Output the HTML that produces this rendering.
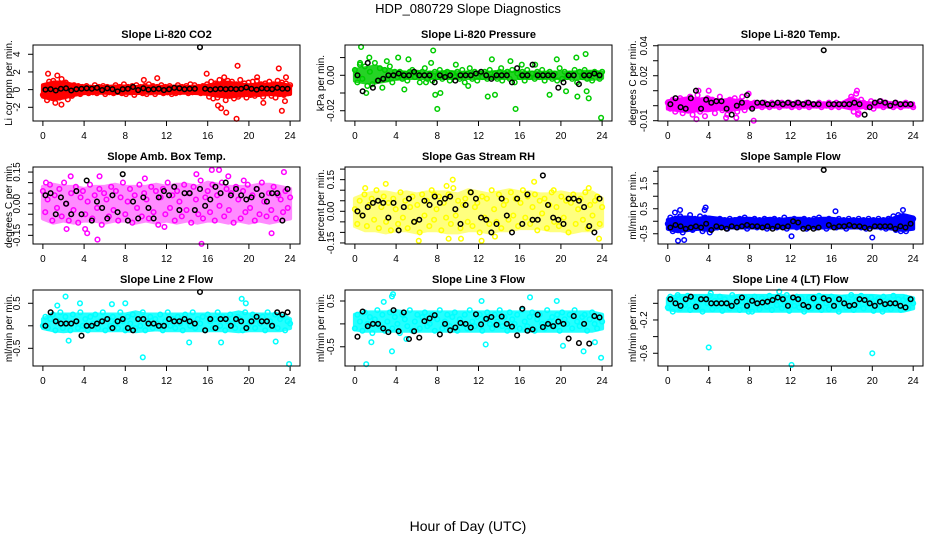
<!DOCTYPE html>
<html><head><meta charset="utf-8"><style>
html,body{margin:0;padding:0;background:#fff;}
svg{display:block;font-family:"Liberation Sans",Arial,sans-serif;}
</style></head><body>
<svg id="chart" width="936" height="540" viewBox="0 0 936 540" xmlns="http://www.w3.org/2000/svg">
<text x="468" y="13" text-anchor="middle" font-size="13">HDP_080729  Slope Diagnostics</text>
<text x="468" y="531" text-anchor="middle" font-size="14">Hour of Day (UTC)</text>
</svg>
<script>
// ---- data ----
const xTicks = [0,4,8,12,16,20,24];
const titles = ["Slope Li-820 CO2","Slope Li-820 Pressure","Slope Li-820 Temp.","Slope Amb. Box Temp.","Slope Gas Stream RH","Slope Sample Flow","Slope Line 2 Flow","Slope Line 3 Flow","Slope Line 4 (LT) Flow"];
const yLabels = ["Li cor ppm per min.","kPa per min.","degrees C per min.","degrees C per min.","percent per min.","ml/min per min.","ml/min per min.","ml/min per min.","ml/min per min."];
const colors = ["#ff0000","#00cc00","#ff00ff","#ff00ff","#ffff00","#0000ff","#00ffff","#00ffff","#00ffff"];
const yDomains = [[-3.55,5.05],[-0.0258,0.0171],[-0.0102,0.0405],[-0.191,0.174],[-0.155,0.21],[-0.91,2.17],[-0.893,0.795],[-0.92,0.74],[-0.753,0.16]];
const yTicks = [[-2,0,2,4],[-0.02,-0.01,0,0.01],[-0.01,0,0.01,0.02,0.03,0.04],[-0.15,-0.1,-0.05,0,0.05,0.1,0.15],[-0.15,-0.1,-0.05,0,0.05,0.1,0.15,0.2],[-0.5,0,0.5,1,1.5,2],[-0.5,0,0.5],[-0.5,0,0.5],[-0.6,-0.4,-0.2,0]];
const yTickLabels = [["-2","0","2","4"],["-0.02","","0.00",""],["-0.01","","","0.02","","0.04"],["-0.15","","","0.00","","","0.15"],["-0.15","","","0.00","","","0.15",""],["-0.5","","0.5","","1.5",""],["-0.5","","0.5"],["-0.5","","0.5"],["-0.6","","-0.2",""]];

// dense-data envelope per hour (0..24): low and high edges of the colored cloud
const lo1 = [-0.8,-1.1,-0.9,-0.6,-0.4,-0.35,-0.35,-0.4,-0.35,-0.4,-0.35,-0.35,-0.4,-0.35,-0.35,-0.4,-0.5,-0.7,-0.8,-0.7,-0.6,-0.6,-0.5,-0.6,-0.5];
const hi1 = [0.5,0.8,0.8,0.5,0.35,0.3,0.3,0.35,0.35,0.3,0.35,0.35,0.3,0.35,0.3,0.35,0.45,0.7,0.8,0.6,0.5,0.6,0.6,0.7,0.4];
const lo2 = [-0.003,-0.004,-0.004,-0.003,-0.002,-0.0015,-0.0015,-0.0015,-0.0015,-0.0015,-0.0015,-0.0015,-0.0015,-0.0015,-0.0015,-0.0015,-0.0015,-0.0015,-0.0015,-0.0015,-0.0015,-0.0015,-0.0015,-0.002,-0.0015];
const hi2 = [0.003,0.004,0.005,0.003,0.002,0.0015,0.002,0.0015,0.0015,0.002,0.0015,0.0015,0.0015,0.0015,0.002,0.0015,0.0015,0.0015,0.0015,0.0015,0.0015,0.0015,0.002,0.002,0.0015];
const lo3 = [-0.002,-0.003,-0.004,-0.003,-0.003,-0.002,-0.003,-0.002,-0.001,-0.0005,-0.0005,-0.0005,-0.0005,-0.0005,-0.0005,-0.0005,-0.0005,-0.0005,-0.002,-0.001,-0.0005,-0.0005,-0.0005,-0.0005,-0.0005];
const hi3 = [0.003,0.004,0.005,0.004,0.005,0.003,0.004,0.003,0.002,0.0015,0.0015,0.0015,0.0015,0.0015,0.0015,0.0015,0.0015,0.0015,0.005,0.002,0.0015,0.002,0.0015,0.0015,0.0015];
const lo4 = [-0.07,-0.09,-0.08,-0.09,-0.08,-0.08,-0.09,-0.08,-0.08,-0.09,-0.08,-0.09,-0.08,-0.09,-0.08,-0.09,-0.08,-0.08,-0.09,-0.08,-0.09,-0.08,-0.09,-0.08,-0.07];
const hi4 = [0.08,0.09,0.08,0.08,0.07,0.08,0.08,0.09,0.08,0.08,0.08,0.09,0.08,0.09,0.09,0.08,0.1,0.09,0.08,0.08,0.08,0.09,0.09,0.08,0.07];
const lo5 = [-0.07,-0.09,-0.09,-0.1,-0.09,-0.09,-0.1,-0.09,-0.09,-0.1,-0.1,-0.09,-0.09,-0.1,-0.09,-0.09,-0.08,-0.08,-0.08,-0.09,-0.09,-0.1,-0.09,-0.09,-0.07];
const hi5 = [0.06,0.08,0.09,0.09,0.08,0.09,0.08,0.09,0.09,0.09,0.08,0.1,0.09,0.08,0.09,0.1,0.09,0.09,0.08,0.08,0.09,0.08,0.08,0.09,0.06];
const lo6 = [-0.3,-0.4,-0.35,-0.3,-0.35,-0.25,-0.25,-0.25,-0.25,-0.25,-0.25,-0.25,-0.25,-0.25,-0.25,-0.25,-0.25,-0.25,-0.25,-0.25,-0.25,-0.25,-0.3,-0.35,-0.3];
const hi6 = [0.05,0.15,0.15,0.1,0.15,0.1,0.05,0.1,0.1,0.05,0.1,0.05,0.1,0.1,0.05,0.1,0.1,0.05,0.05,0.05,0.05,0.05,0.1,0.25,0.15];
const lo7 = [-0.05,-0.1,-0.12,-0.1,-0.1,-0.1,-0.1,-0.1,-0.1,-0.12,-0.1,-0.08,-0.1,-0.1,-0.1,-0.1,-0.1,-0.1,-0.1,-0.12,-0.1,-0.1,-0.1,-0.1,-0.05];
const hi7 = [0.15,0.25,0.25,0.25,0.25,0.25,0.25,0.25,0.25,0.3,0.25,0.25,0.25,0.25,0.25,0.25,0.25,0.25,0.25,0.3,0.25,0.25,0.25,0.25,0.15];
const lo8 = [-0.12,-0.15,-0.15,-0.15,-0.15,-0.15,-0.15,-0.15,-0.15,-0.15,-0.15,-0.15,-0.15,-0.15,-0.15,-0.15,-0.15,-0.15,-0.15,-0.15,-0.15,-0.15,-0.15,-0.15,-0.1];
const hi8 = [0.2,0.25,0.25,0.25,0.28,0.25,0.25,0.25,0.25,0.25,0.25,0.25,0.25,0.25,0.25,0.25,0.25,0.25,0.25,0.25,0.25,0.25,0.25,0.25,0.2];
const lo9 = [-0.07,-0.09,-0.09,-0.09,-0.09,-0.09,-0.09,-0.09,-0.09,-0.09,-0.09,-0.09,-0.09,-0.09,-0.09,-0.09,-0.09,-0.09,-0.09,-0.09,-0.09,-0.09,-0.09,-0.09,-0.06];
const hi9 = [0.06,0.09,0.09,0.09,0.09,0.09,0.08,0.09,0.09,0.09,0.09,0.09,0.08,0.09,0.09,0.09,0.09,0.08,0.09,0.09,0.09,0.08,0.09,0.09,0.06];

const c1 = [-0.6,0.4,-1.2,0.9,-0.3,1.0,-1.5,0.6,-0.9,1.2,-0.4,0.8,-1.1,0.3,-0.7,0.5,-0.3,0.4,-0.5,0.3,-0.2,0.4,-0.4,0.2,-0.3,0.5,-0.4,0.3,-0.2,0.4,-0.5,0.3,-0.3,0.2,-0.4,0.5,-0.2,0.3,-0.4,0.6,-0.5,0.3,-0.3,0.4,-0.6,0.5,-0.2,0.3,-0.4,0.4,-0.5,0.6,-0.3,0.4,-0.5,0.3,-0.2,0.5,-0.4,0.3,-0.3,0.4,-0.5,0.2,-0.4,0.5,-0.3,0.3,-0.2,0.4,-0.4,0.6,-0.3,0.5,-0.2,0.3,-0.4,0.4,-0.3,0.6,-0.8,0.9,-1.0,0.7,-0.9,1.1,-0.6,0.8,-1.2,1.0,-0.7,0.9,-1.0,0.6,-0.8,1.1,-0.5,0.7,-0.9,0.8,-0.6,0.9,-0.7,1.0,-0.5,0.6,-0.8,0.7,-0.4,0.9,-0.7,0.6,-0.9,1.0,-0.5,0.8,-0.6,0.7,-0.4,0.5];
const c2 = [0.003,-0.004,0.006,-0.002,0.005,-0.006,0.002,-0.005,0.007,-0.003,0.004,-0.007,0.003,-0.002,0.005,-0.004,0.002,-0.001,0.002,-0.002,0.001,-0.003,0.002,0.003,-0.001,0.001,-0.004,0.002,0.004,-0.002,0.001,-0.003,0.002,-0.001,0.003,-0.002,0.001,0.002,-0.003,0.001,-0.001,0.002,-0.002,0.003,-0.004,0.001,0.004,-0.002,0.002,-0.003,0.001,-0.001,0.002,-0.002,0.003,-0.001,0.001,-0.002,0.002,-0.003,0.001,0.002,-0.002,0.003,-0.004,0.001,-0.001,0.002,-0.003,0.003,-0.001,0.001,-0.002,0.002,-0.001,0.003,-0.003,0.001,0.002,-0.002,0.001,-0.003,0.004,-0.002,0.002,-0.001,0.001,-0.002,0.003,-0.004,0.002,-0.001,0.003,-0.002,0.001,-0.003,0.002,0.001,-0.002,0.002];
const c3 = [0.002,-0.002,0.004,-0.004,0.001,0.005,-0.005,0.003,-0.003,0.006,-0.006,0.002,0.007,-0.004,0.003,-0.007,0.005,-0.002,0.004,-0.005,0.002,0.006,-0.003,0.001,-0.006,0.004,-0.002,0.005,-0.004,0.003,0.006,-0.003,0.002,0.001,-0.001,0.002,0,0.001,-0.001,0.002,0.001,-0.001,0.002,0,0.001,-0.001,0.002,0.001,0,0.002,-0.001,0.001,0.002,-0.001,0.001,0,0.002,-0.001,0.001,0.001,0,0.002,-0.001,0.001,0,0.002,-0.001,0.001,0.002,-0.001,0.001,0.001,0,0.002,0.006,-0.004,0.008,-0.005,0.004,0.002,-0.001,0.001,0.003,-0.002,0.002,0.001,0.003,-0.001,0.002,0,0.001,-0.001,0.002,0.001,-0.001,0.001,0.002,0,0.001,-0.001];
const c4 = [0.06,-0.04,0.02,0.09,-0.08,0.04,-0.02,0.07,-0.06,0.1,0,-0.08,0.05,-0.03,0.08,-0.09,0.03,0.06,-0.05,0.01,0.09,-0.07,0.04,-0.02,0.07,-0.1,0.05,0.02,-0.06,0.08,-0.03,0.06,-0.08,0.03,0.1,-0.05,0.01,0.07,-0.09,0.04,-0.02,0.09,-0.06,0.05,0.02,-0.07,0.08,-0.04,0.06,-0.1,0.03,0.07,-0.05,0.1,-0.02,0.04,-0.08,0.06,0.01,-0.06,0.09,-0.03,0.05,-0.09,0.08,0.02,-0.05,0.11,-0.07,0.03,0.06,-0.04,0.09,-0.08,0.04,-0.01,0.1,-0.06,0.07,-0.03,0.05,-0.09,0.08,0.02,-0.07,0.06,-0.04,0.09,-0.02,0.04,-0.08,0.07,-0.05,0.1,0.01,-0.06,0.05,-0.03,0.08,-0.07,0.04,0.02,-0.04,0.06,-0.02,0.03];
const c5 = [0.01,-0.06,0.05,-0.02,0.08,-0.07,0.03,0.06,-0.04,0.1,-0.08,0.02,0.07,-0.05,0.04,-0.09,0.06,0.01,-0.06,0.09,-0.03,0.05,-0.08,0.02,0.07,-0.05,0.03,-0.1,0.08,-0.02,0.05,-0.07,0.1,-0.04,0.01,0.07,-0.09,0.04,-0.03,0.08,-0.06,0.11,-0.02,0.05,-0.08,0.03,0.06,-0.05,0.09,-0.07,0.02,0.04,-0.1,0.07,-0.03,0.06,-0.06,0.1,0.01,-0.05,0.08,-0.08,0.03,0.05,-0.04,0.09,-0.02,0.06,-0.07,0.04,0.1,-0.03,0.07,-0.06,0.02,0.08,-0.09,0.05,-0.01,0.06,-0.08,0.03,0.09,-0.05,0.02,-0.07,0.07,-0.03,0.05,-0.1,0.04,0.08,-0.06,0.01,0.06,-0.04,0.09,-0.08,0.03,-0.02,0.05,0.07,-0.06,0.02];
const c6 = [-0.1,0.15,-0.4,0.1,-0.3,0.2,-0.45,0.05,-0.2,0.25,-0.35,0.1,-0.25,0.2,-0.4,0.15,-0.1,0.1,-0.3,0.05,-0.25,0.1,-0.2,0.05,-0.3,0.1,-0.15,0.05,-0.25,0.1,-0.2,0.15,-0.3,0.05,-0.15,0.1,-0.25,0.05,-0.2,0.1,-0.3,0.05,-0.1,0.1,-0.25,0.05,-0.2,0.15,-0.3,0.05,-0.15,0.1,-0.25,0.05,-0.2,0.1,-0.3,0.05,-0.15,0.1,-0.25,0.15,-0.2,0.05,-0.3,0.1,-0.15,0.05,-0.25,0.1,-0.2,0.05,-0.3,0.1,-0.15,0.05,-0.2,0.1,-0.25,0.05,-0.3,0.1,-0.15,0.05,-0.2,0.1,-0.25,0.05,-0.3,0.1,-0.2,0.2,-0.35,0.25,-0.4,0.2,-0.3,0.15,-0.25,0.1];
const c7 = [0.0,0.2,-0.05,0.15,0.25,-0.1,0.1,0.3,-0.05,0.2,0.05,-0.1,0.25,0.1,-0.05,0.3,0.0,0.15,-0.1,0.2,0.05,0.25,-0.05,0.1,0.3,-0.1,0.15,0.0,0.2,0.05,-0.05,0.3,0.1,-0.1,0.2,0.05,0.25,-0.05,0.15,0.0,0.3,-0.1,0.1,0.2,-0.05,0.15,0.05,0.25,-0.1,0.1,0.3,0.0,0.15,-0.05,0.2,0.05,-0.1,0.25,0.1,0.0,0.3,-0.05,0.15,0.05,0.2,-0.1,0.25,0.1,-0.05,0.15,0.3,0.0,0.2,-0.1,0.1,0.25,0.05,-0.05,0.2,0.15,-0.1,0.3,0.0,0.1,0.25,-0.05,0.15,0.05,0.2,-0.1,0.3,0.1,0.0,0.25,-0.05,0.15,0.2,-0.1,0.1,0.05];
const c8 = [-0.1,0.2,0.05,-0.15,0.25,0.0,0.15,-0.2,0.1,0.3,-0.05,0.2,-0.15,0.05,0.25,-0.1,0.15,0.0,-0.2,0.2,0.1,-0.05,0.3,-0.15,0.05,0.2,-0.1,0.15,0.25,-0.05,0.0,0.2,-0.15,0.1,0.3,-0.1,0.05,0.2,-0.05,0.15,0.25,-0.15,0.1,0.0,0.2,-0.1,0.3,0.05,-0.05,0.15,0.2,-0.15,0.1,0.25,0.0,-0.1,0.2,0.05,0.3,-0.05,0.15,-0.15,0.25,0.1,0.0,0.2,-0.1,0.3,0.05,-0.05,0.15,0.25,-0.15,0.1,0.2,0.0,-0.1,0.3,0.05,0.15,-0.05,0.2,-0.15,0.25,0.1,0.0,0.2,-0.1,0.3,0.05,-0.05,0.15,0.2,-0.15,0.1,0.25,0.0,-0.1,0.15,0.05];
const c9 = [-0.05,0.08,-0.1,0.03,0.1,-0.06,0.05,-0.02,0.09,-0.08,0.02,0.07,-0.05,0.04,-0.1,0.06,0.0,0.09,-0.07,0.03,-0.03,0.08,-0.09,0.05,0.01,-0.06,0.1,-0.04,0.06,-0.08,0.02,0.07,-0.05,0.04,-0.1,0.08,0.0,-0.07,0.06,0.03,-0.04,0.09,-0.08,0.05,-0.02,0.07,-0.06,0.02,0.1,-0.09,0.04,-0.03,0.08,-0.05,0.06,-0.1,0.01,0.07,-0.06,0.04,-0.02,0.09,-0.08,0.05,0.0,-0.07,0.08,-0.04,0.06,-0.1,0.03,0.07,-0.05,0.02,0.1,-0.08,0.04,-0.03,0.09,-0.06,0.05,-0.01,0.07,-0.09,0.03,0.06,-0.05,0.08,-0.04,0.02,-0.07,0.09,-0.02,0.05,-0.08,0.04,0.07,-0.06,0.03,0.0];

const o1h = [0.5,1.4,1.8,9.8,11.1,15.9,17.0,17.3,17.8,18.8,18.9,21.4,22.9,23.2,23.5,23.6,20.8,17.6];
const o1v = [1.8,1.6,-1.7,1.1,1.3,1.8,-1.8,-2.1,-2.6,-3.3,2.7,-1.5,2.4,-2.4,-1.3,1.4,1.4,1.4];
const o2h = [0.6,0.5,1.4,1.1,3.1,4.2,5.2,4.8,7.4,7.6,7.8,8.0,8.3,9.8,11.0,12.9,13.3,13.6,15.1,15.6,16.2,17.5,18.9,19.6,20.5,21.5,21.6,22.4,22.5,22.7,23.9,14.2,6.9];
const o2v = [0.016,0.007,0.01,-0.01,0.008,0.01,0.009,-0.008,0.007,0.014,-0.011,-0.019,-0.01,0.006,-0.006,-0.012,0.009,-0.011,0.008,-0.019,0.006,0.006,-0.011,0.009,-0.009,0.01,-0.012,0.012,-0.009,-0.013,-0.024,0.004,-0.004];
const o3h = [2.8,5.7,6.7,8.4,4.0,18.5,18.6,3.0,7.9];
const o3v = [-0.009,-0.008,-0.008,-0.01,0.01,0.01,-0.006,0.01,0.008];
const o4h = [2.3,4.1,4.3,5.3,15.4,16.4,17.1,22.2,23.4,2.7,5.5,11.8,18.0,19.5,0.3,9.9,14.9];
const o4v = [-0.12,-0.12,-0.14,-0.17,-0.19,0.16,0.16,-0.14,0.15,0.13,0.13,-0.11,0.13,0.11,0.1,0.12,0.14];
const o5h = [6.2,9.1,10.3,12.3,13.6,23.7,9.5,17.4,3.0,8.9,22.7,7.7,1.0,19.3];
const o5v = [-0.14,-0.13,-0.13,-0.14,-0.12,-0.13,0.15,0.14,0.13,0.12,0.11,0.08,0.11,0.1];
const o6h = [0.7,1.2,1.0,1.6,3.6,3.7,3.5,4.1,12.1,16.4,20.0,23.0,23.3,22.5];
const o6v = [0.35,0.45,-0.78,-0.75,0.45,0.55,-0.3,-0.45,-0.6,0.4,-0.65,0.45,-0.4,-0.3];
const o7h = [2.2,9.7,23.9,19.3,3.6,8.0,14.2,17.3,22.6,2.5,1.4,6.7,19.7];
const o7v = [0.65,-0.7,-0.85,0.6,0.5,0.5,-0.37,-0.37,-0.35,-0.33,0.45,0.48,0.5];
const o8h = [3.7,3.6,1.1,3.6,2.8,12.3,12.7,17.0,19.6,20.2,22.2,23.9,1.6,5.0,23.3];
const o8v = [0.65,0.6,-0.88,-0.6,0.48,0.5,-0.45,0.58,0.5,-0.48,-0.6,-0.74,-0.4,-0.33,-0.4];
const o9h = [4.0,12.1,20.0,4.2,10.9,7.9,21.0];
const o9v = [-0.53,-0.74,-0.6,0.12,0.14,-0.1,-0.1];

const b1 = [0,0.05,-0.1,0.1,0.15,-0.1,0.05,0.1,0.15,0.1,0.2,-0.05,0.15,0.05,-0.2,0.05,0.1,0.3,-0.05,0.15,0,0.05,0.1,-0.05,0.05,0.2,0.15,0.05,0.1,0.1,4.8,0.1,0,0.05,0.1,0.05,0.1,0.05,0.1,0.25,0.1,0,0.15,0.1,0.05,0.2,0.1,0.1];
const b2 = [0,-0.009,0.007,-0.007,-0.003,-0.002,0,0,0.001,0,0,0.002,0,0,0,-0.004,0,-0.001,0,-0.003,0,0,0,0.001,0.002,0,-0.002,0,0,0,-0.004,0.004,0,0,0.006,0,0,0,0,-0.007,-0.004,0,0,-0.005,0,0,0.001,0];
const b3 = [0.001,0.005,-0.001,-0.002,0.005,0.010,-0.002,0.004,0.002,0.003,0.003,-0.002,-0.006,0,0.002,0.007,-0.002,0.002,0.002,0.001,0.001,0.002,0.001,0.002,0.001,0.002,0.001,0.002,0.001,0.001,0.037,0.001,0.001,0.001,0.001,0.001,0.002,0.001,-0.006,-0.001,0.002,0.003,0.002,0,0.002,0.001,0.001,0.001];
const b4 = [0.04,0.05,-0.05,0.03,0,-0.05,0.06,-0.05,0.11,-0.08,0.01,-0.02,-0.07,0.04,-0.04,0.14,-0.08,0.01,-0.07,0.03,-0.02,-0.07,0.03,0.06,0.04,0.08,-0.03,0.05,0.05,-0.03,0.07,-0.01,0.02,0.08,0.05,0.10,0.04,0.07,0.04,0.02,0.03,0.07,0.04,0.01,0.05,0.05,-0.08,0.07];
const b5 = [0,-0.02,0.02,0.04,0.05,0.04,-0.03,0.04,-0.09,0.02,0.06,-0.05,-0.04,0.05,0.03,0.07,0.04,0.06,0.07,0.01,-0.06,0.03,0.09,0.06,-0.03,-0.04,-0.10,-0.06,0.06,-0.02,-0.10,0.06,-0.06,0.08,-0.04,-0.04,0.17,0.03,-0.03,-0.04,-0.06,0.06,0.06,0.05,0.02,-0.07,-0.10,0.06];
const b6 = [-0.25,-0.15,-0.2,-0.3,-0.25,-0.2,-0.25,-0.1,-0.35,-0.2,-0.25,-0.3,-0.2,-0.25,-0.2,-0.15,-0.2,-0.2,-0.25,-0.2,-0.3,-0.2,-0.25,-0.2,0.0,-0.05,-0.3,-0.25,-0.3,-0.25,2.05,-0.15,-0.25,-0.2,-0.2,-0.15,-0.2,-0.2,-0.25,-0.3,-0.2,-0.2,-0.2,-0.2,-0.3,-0.2,-0.25,-0.1];
const b7 = [0.0,0.3,0.1,0.05,0.05,0.05,0.1,-0.22,0.0,0.0,0.05,0.1,0.15,-0.05,0.1,0.15,-0.05,-0.1,0.15,0.15,0.05,0.05,0.0,0.0,0.15,0.1,0.1,0.15,0.1,0.05,0.75,-0.1,0.15,-0.05,0.15,0.15,0.0,0.15,0.1,-0.05,0.1,0.2,0.1,0.1,0.0,0.3,0.25,0.3];
const b8 = [-0.28,0.27,-0.05,0.0,0.0,-0.1,-0.18,0.3,-0.16,0.25,-0.33,-0.16,-0.3,0.06,0.12,0.19,-0.23,0.0,-0.14,-0.08,0.02,0.0,-0.08,0.21,-0.01,0.11,0.15,-0.02,0.16,0.0,-0.06,-0.25,0.33,-0.15,-0.12,0.2,-0.07,0.0,-0.05,0.05,0.0,-0.32,0.17,-0.42,0.0,-0.43,0.17,0.14];
const b9 = [0.05,0.0,-0.03,0.05,0.08,-0.04,0.05,0.05,0.0,0.0,0.0,0.0,-0.03,0.02,0.07,-0.03,0.03,0.0,0.01,0.02,0.04,0.07,0.05,-0.03,0.07,0.05,-0.02,-0.04,0.06,-0.04,0.06,0.04,-0.03,0.05,0.0,-0.03,-0.02,0.05,0.04,0.0,-0.03,0.02,-0.01,0.0,0.0,-0.03,-0.05,0.05];

const bandLo = [lo1,lo2,lo3,lo4,lo5,lo6,lo7,lo8,lo9];
const bandHi = [hi1,hi2,hi3,hi4,hi5,hi6,hi7,hi8,hi9];
const colSeries = [c1,c2,c3,c4,c5,c6,c7,c8,c9];
const outH = [o1h,o2h,o3h,o4h,o5h,o6h,o7h,o8h,o9h];
const outV = [o1v,o2v,o3v,o4v,o5v,o6v,o7v,o8v,o9v];
const blkSeries = [b1,b2,b3,b4,b5,b6,b7,b8,b9];

// ---- layout / style ----
const colBox = [[33,300],[345,612],[658,923]];
const rowBox = [[45,121],[167,244],[290,366]];
const xDomain = [-0.96,24.96];
const yLabelX = [9,321,633];
const yTickX = [16,330,643];
const bandOpacity = [1,0.85,1,0.45,0.5,1,0.85,0.85,0.9];

const NS = "http://www.w3.org/2000/svg";
const svg = document.getElementById('chart');
function mk(tag, attrs, parent){
  const e = document.createElementNS(NS, tag);
  for (const k in attrs) e.setAttribute(k, attrs[k]);
  (parent||svg).appendChild(e);
  return e;
}

for (let p = 0; p < 9; p++) {
  const col = p % 3, row = Math.floor(p / 3);
  const [L, R] = colBox[col], [T, B] = rowBox[row];
  const xs = v => L + (v - xDomain[0]) / (xDomain[1] - xDomain[0]) * (R - L);
  const [y0, y1] = yDomains[p];
  const ys = v => B - (v - y0) / (y1 - y0) * (B - T);

  const g = mk('g', {});
  
  

  const title = mk('text', {x: (L + R) / 2, y: T - 7, 'text-anchor': 'middle', 'font-size': 11, 'font-weight': 'bold'}, g);
  title.textContent = titles[p];
  
  

  const yl = mk('text', {x: 0, y: 0, 'text-anchor': 'middle', 'font-size': 10,
    transform: 'translate(' + (yLabelX[col] + 3) + ',' + ((T + B) / 2) + ') rotate(-90)'}, g);
  yl.textContent = yLabels[p];
  
  

  const xa = mk('g', {}, g);
  
  
  xTicks.forEach(t => {
    mk('line', {x1: xs(t), x2: xs(t), y1: B, y2: B + 5, stroke: '#000'}, xa);
    const tl = mk('text', {x: xs(t), y: B + 18, 'text-anchor': 'middle', 'font-size': 10}, xa);
    tl.textContent = t;
    
    
  });

  const ya = mk('g', {}, g);
  
  
  yTicks[p].forEach((t, i) => {
    mk('line', {x1: L - 5, x2: L, y1: ys(t), y2: ys(t), stroke: '#000'}, ya);
    if (yTickLabels[p][i]) {
      const tl = mk('text', {x: 0, y: 0, 'text-anchor': 'middle', 'font-size': 10,
        transform: 'translate(' + (yTickX[col] + 4) + ',' + ys(t) + ') rotate(-90)'}, ya);
      tl.textContent = yTickLabels[p][i];
      
      
    }
  });

  const lo = bandLo[p], hi = bandHi[p], nb = lo.length;
  let pts = [];
  hi.forEach((v, i) => pts.push(xs(i * 24 / (nb - 1)) + ',' + ys(v)));
  for (let i = nb - 1; i >= 0; i--) pts.push(xs(i * 24 / (nb - 1)) + ',' + ys(lo[i]));
  const band = mk('polygon', {points: pts.join(' '), fill: colors[p], stroke: colors[p], 'stroke-width': 4, 'stroke-linejoin': 'round', opacity: bandOpacity[p]}, g);
  
  

  const cs = mk('g', {fill: 'none', stroke: colors[p], 'stroke-width': 1.5}, g);
  
  
  const arr = colSeries[p], n = arr.length;
  arr.forEach((v, i) => {
    const h = i * 24 / (n - 1);
    mk('circle', {cx: xs(h), cy: ys(v), r: 2.3}, cs);
  });
  outH[p].forEach((h, i) => {
    mk('circle', {cx: xs(h), cy: ys(outV[p][i]), r: 2.3}, cs);
  });

  const bs = mk('g', {fill: 'none', stroke: '#000', 'stroke-width': 1.5}, g);
  
  
  blkSeries[p].forEach((v, i) => {
    const h = 0.25 + i * 0.5;
    mk('circle', {cx: xs(h), cy: ys(v), r: 2.3}, bs);
  });

  const box = mk('rect', {x: L, y: T, width: R - L, height: B - T, fill: 'none', stroke: '#000', 'stroke-width': 1}, g);
  
  
}
</script>
</body></html>
